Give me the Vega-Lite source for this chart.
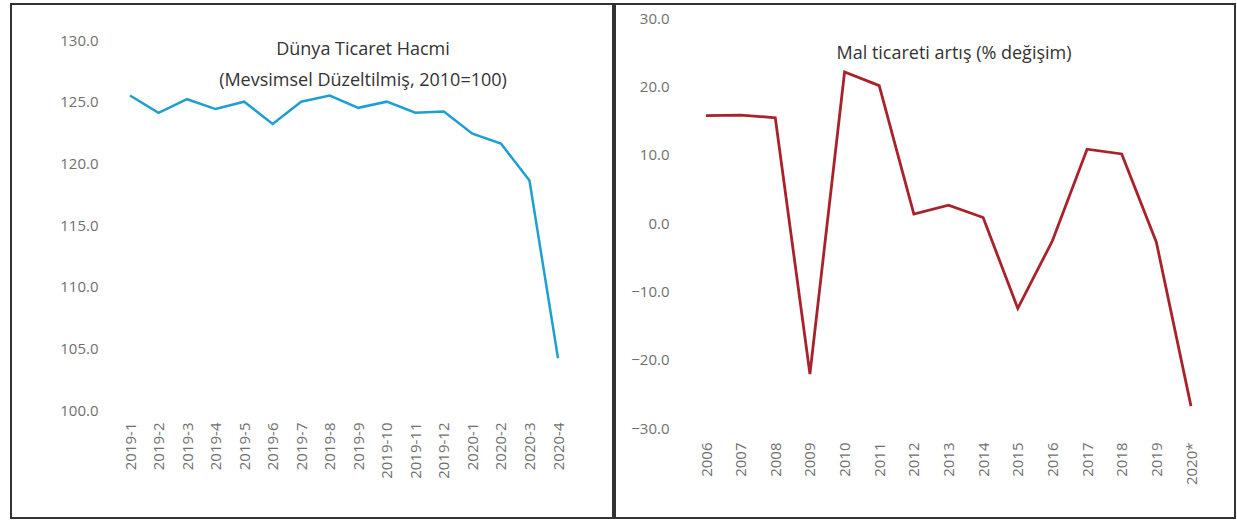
{
  "$schema": "https://vega.github.io/schema/vega-lite/v6.json",
  "padding": {"left": 10, "top": 3, "right": 0, "bottom": 0},
  "background": "white",
  "spacing": 0,
  "config": {
    "view": {"stroke": "#333333", "strokeWidth": 2},
    "font": "Open Sans",
    "axis": {"labelFont": "Open Sans", "labelColor": "#707070", "labelFontSize": 15, "domain": false, "ticks": false, "grid": false, "title": null},
    "title": {"font": "Open Sans", "fontSize": 18, "fontWeight": "normal", "color": "#333333", "lineHeight": 31}
  },
  "datasets": {
    "hacim": [
      {"donem": "2019-1", "deger": 125.5},
      {"donem": "2019-2", "deger": 124.1},
      {"donem": "2019-3", "deger": 125.2},
      {"donem": "2019-4", "deger": 124.4},
      {"donem": "2019-5", "deger": 125.0},
      {"donem": "2019-6", "deger": 123.2},
      {"donem": "2019-7", "deger": 125.0},
      {"donem": "2019-8", "deger": 125.5},
      {"donem": "2019-9", "deger": 124.5},
      {"donem": "2019-10", "deger": 125.0},
      {"donem": "2019-11", "deger": 124.1},
      {"donem": "2019-12", "deger": 124.2},
      {"donem": "2020-1", "deger": 122.4},
      {"donem": "2020-2", "deger": 121.6},
      {"donem": "2020-3", "deger": 118.6},
      {"donem": "2020-4", "deger": 104.2}
    ],
    "artis": [
      {"yil": "2006", "deger": 15.7},
      {"yil": "2007", "deger": 15.8},
      {"yil": "2008", "deger": 15.4},
      {"yil": "2009", "deger": -22.1},
      {"yil": "2010", "deger": 22.1},
      {"yil": "2011", "deger": 20.1},
      {"yil": "2012", "deger": 1.3},
      {"yil": "2013", "deger": 2.6},
      {"yil": "2014", "deger": 0.8},
      {"yil": "2015", "deger": -12.5},
      {"yil": "2016", "deger": -2.6},
      {"yil": "2017", "deger": 10.8},
      {"yil": "2018", "deger": 10.1},
      {"yil": "2019", "deger": -2.8},
      {"yil": "2020*", "deger": -26.8}
    ]
  },
  "hconcat": [
    {
      "width": 602,
      "height": 514,
      "data": {"name": "hacim"},
      "title": {"text": ["Dünya Ticaret Hacmi", "(Mevsimsel Düzeltilmiş, 2010=100)"], "anchor": "middle", "frame": "group", "baseline": "top", "offset": 0, "dx": 51, "dy": 86},
      "mark": {"type": "line", "color": "#1f9fd0", "strokeWidth": 2.5},
      "encoding": {
        "x": {"field": "donem", "type": "ordinal", "sort": null, "scale": {"type": "point", "range": [119, 547], "padding": 0},
              "axis": {"orient": "bottom", "offset": -101, "labelAngle": -90, "labelPadding": 5}},
        "y": {"field": "deger", "type": "quantitative", "scale": {"domain": [100, 130], "range": [406, 36], "nice": false, "zero": false},
              "axis": {"orient": "left", "offset": -89, "labelPadding": 2, "values": [100, 105, 110, 115, 120, 125, 130], "format": ".1f"}}
      }
    },
    {
      "width": 620,
      "height": 514,
      "data": {"name": "artis"},
      "title": {"text": "Mal ticareti artış (% değişim)", "anchor": "middle", "frame": "group", "baseline": "top", "offset": 0, "dx": 29, "dy": 59},
      "mark": {"type": "line", "color": "#a8222c", "strokeWidth": 2.8},
      "encoding": {
        "x": {"field": "yil", "type": "ordinal", "sort": null, "scale": {"type": "point", "range": [91, 576], "padding": 0},
              "axis": {"orient": "bottom", "offset": -81, "labelAngle": -90, "labelPadding": 5}},
        "y": {"field": "deger", "type": "quantitative", "scale": {"domain": [-30, 30], "range": [424, 14], "nice": false, "zero": false},
              "axis": {"orient": "left", "offset": -56, "labelPadding": 2, "values": [-30, -20, -10, 0, 10, 20, 30], "format": ".1f"}}
      }
    }
  ]
}
